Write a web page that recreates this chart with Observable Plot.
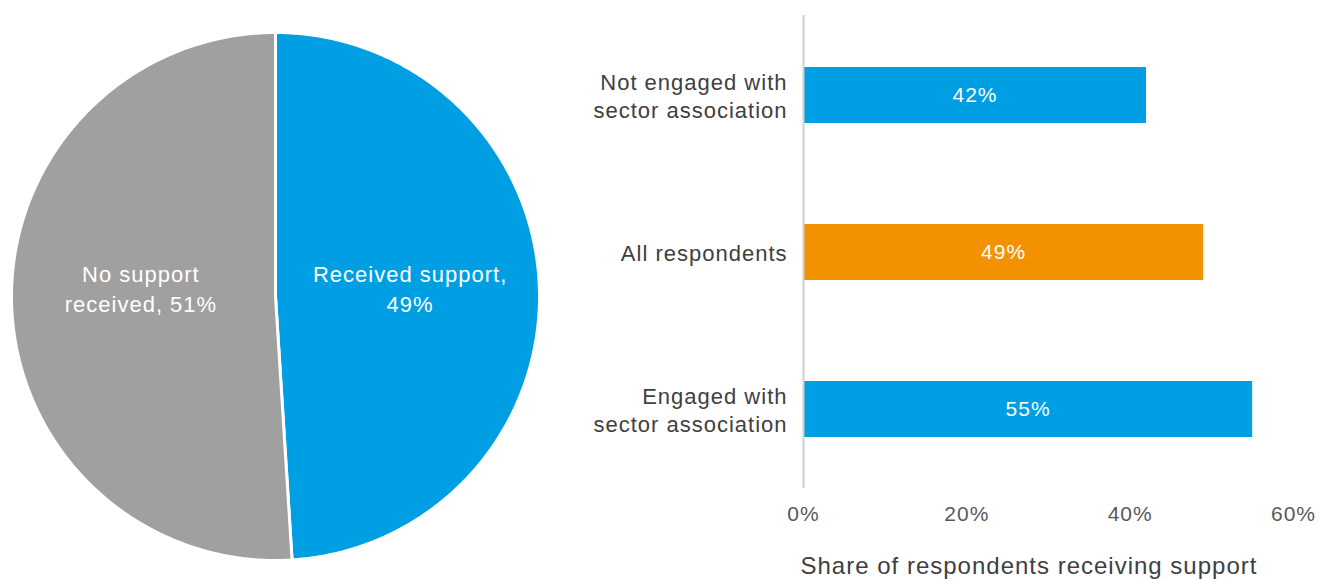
<!DOCTYPE html>
<html>
<head>
<meta charset="utf-8">
<script src="https://cdn.jsdelivr.net/npm/d3@7"></script>
<script src="https://cdn.jsdelivr.net/npm/@observablehq/plot@0.6"></script>
<style>
  html, body { margin: 0; padding: 0; background: #fff; }
  #wrap { display: flex; width: 1319px; height: 579px; overflow: hidden; }
  svg { font-family: "Liberation Sans", Arial, Helvetica, sans-serif; }
  svg text { letter-spacing: 1px; }
</style>
</head>
<body>
<div id="wrap"></div>
<script>
// Pie: share of respondents that received support
const pieLabels = ["Received support", "No support received"];
const pieValues = [49, 51];
const pieText = ["Received support,\n49%", "No support\nreceived, 51%"];
const pieColors = ["#009FE3", "#A0A0A0"];

// Bars: share receiving support by engagement with a sector association
const barCategories = ["Not engaged with\nsector association", "All respondents", "Engaged with\nsector association"];
const barValues = [42, 49, 55];
const barColors = ["#009FE3", "#F39200", "#009FE3"];
const xTicks = [0, 20, 40, 60];
const xTitle = "Share of respondents receiving support";

const FONT = "Liberation Sans, Arial, Helvetica, sans-serif";

// --- pie geometry from d3.pie, drawn as filled polygons in unit space
const arcs = d3.pie().sort(null).startAngle(0).endAngle(2 * Math.PI)(pieValues);
const wedgePts = [];
const labelPos = [];
arcs.forEach((a, i) => {
  const n = Math.max(4, Math.ceil((a.endAngle - a.startAngle) / 0.01));
  wedgePts.push({slice: pieLabels[i], x: 0, y: 0});
  for (let k = 0; k <= n; ++k) {
    const t = a.startAngle + (a.endAngle - a.startAngle) * k / n;
    wedgePts.push({slice: pieLabels[i], x: Math.sin(t), y: Math.cos(t)});
  }
  wedgePts.push({slice: pieLabels[i], x: 0, y: 0});
  const mid = (a.startAngle + a.endAngle) / 2;
  labelPos.push({text: pieText[i], x: 0.51 * Math.sin(mid), y: 0});
});

const pie = Plot.plot({
  width: 550,
  height: 579,
  marginLeft: 11,
  marginRight: 11,
  marginTop: 32,
  marginBottom: 19,
  x: {domain: [-1, 1], axis: null},
  y: {domain: [-1, 1], axis: null},
  color: {domain: pieLabels, range: pieColors},
  marks: [
    Plot.line(wedgePts, {x: "x", y: "y", z: "slice", fill: "slice", stroke: "white", strokeWidth: 3, curve: "linear"}),
    Plot.text(labelPos, {x: "x", y: "y", text: "text", dy: -9, fill: "white", fontSize: 22, lineHeight: 1.36, fontFamily: FONT})
  ]
});

// --- bar chart
const bars = barCategories.map((c, i) => ({category: c, value: barValues[i], color: barColors[i]}));

const barChart = Plot.plot({
  width: 769,
  height: 579,
  marginLeft: 253,
  marginRight: 26,
  marginTop: 15,
  marginBottom: 91,
  x: {domain: [0, 60], ticks: xTicks, tickFormat: d => d + "%", tickSize: 0, tickPadding: 18, label: null},
  y: {domain: barCategories, axis: null, paddingInner: 0.644, paddingOuter: 0.322},
  style: {fontSize: "21px", color: "#595959", fontFamily: FONT},
  marks: [
    Plot.barX(bars, {x: "value", y: "category", fill: "color"}),
    Plot.text(bars, {x: d => d.value / 2, y: "category", text: d => d.value + "%", fill: "white", fontSize: 21, fontFamily: FONT}),
    Plot.text(bars, {x: 0, y: "category", text: "category", dx: -16, textAnchor: "end", fill: "#404040", fontSize: 22, lineHeight: 1.27, fontFamily: FONT}),
    Plot.ruleX([0], {stroke: "#D0D0D0", strokeWidth: 2}),
    Plot.text([xTitle], {frameAnchor: "bottom-left", dx: -3, dy: 85, textAnchor: "start", fill: "#404040", fontSize: 24, fontFamily: FONT})
  ]
});

const wrap = document.getElementById("wrap");
wrap.appendChild(pie);
wrap.appendChild(barChart);
</script>
</body>
</html>
